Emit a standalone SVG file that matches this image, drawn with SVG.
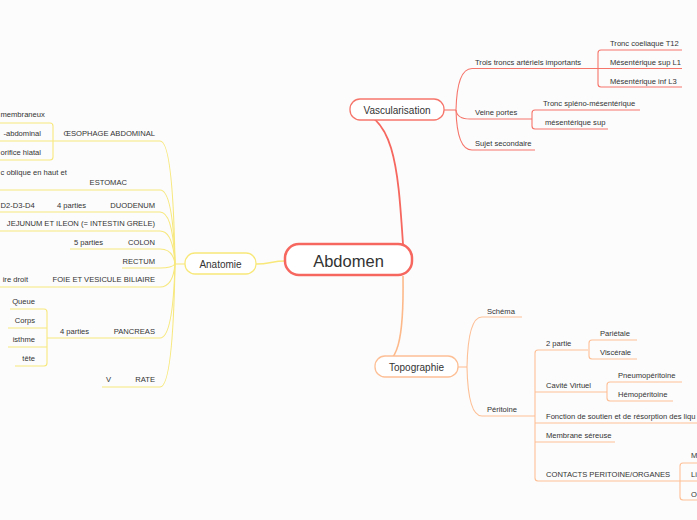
<svg xmlns="http://www.w3.org/2000/svg" width="697" height="520" viewBox="0 0 697 520">
<style>
.t{font-family:"Liberation Sans",Arial,sans-serif;font-size:7.6px;fill:#333;}
.e{text-anchor:end;}
.r{fill:none;stroke:#f6756b;stroke-width:1.1;}
.o{fill:none;stroke:#fdbf95;stroke-width:1.1;}
.y{fill:none;stroke:#f7e87e;stroke-width:1.1;}
</style>
<rect width="697" height="520" fill="#fcfcfc"/>
<g id="connectors">
  <path d="M403 244 C398 170 395 111 350 110" fill="none" stroke="#f6675f" stroke-width="1.8"/>
  <path d="M403 276 C404 340 398 366 376 367" fill="none" stroke="#fdb98a" stroke-width="1.6"/>
  <path d="M256 264 C270 264 272 261 285 261" fill="none" stroke="#f8e87a" stroke-width="1.6"/>
  <path class="r" d="M444 110 H456"/>
  <path class="r" d="M456 110 Q457 68.5 472 68.5 H598"/>
  <path class="r" d="M456 110 Q457 119 470 119 H532"/>
  <path class="r" d="M456 110 Q457 150 472 150 H535"/>
  <path class="r" d="M682 50 H601 Q598 50 598 53 V84 Q598 87 601 87 H682 M598 68.5 H682"/>
  <path class="r" d="M640 110 H535 Q532 110 532 113 V126 Q532 129 535 129 H608"/>
  <path class="o" d="M458 367 H467"/>
  <path class="o" d="M467 367 Q468 317 482 317 H522"/>
  <path class="o" d="M467 367 Q468 416 482 416 H535"/>
  <path class="o" d="M588 350 H538 Q535 350 535 353 V478 Q535 481 538 481 H680 M535 392 H607 M535 423 H700 M535 442 H615"/>
  <path class="o" d="M637 340 H592 Q589 340 589 343 V356 Q589 359 592 359 H637"/>
  <path class="o" d="M682 382 H610 Q607 382 607 385 V398 Q607 401 610 401 H673"/>
  <path class="o" d="M700 463 H683 Q680 463 680 466 V497 Q680 500 683 500 H700 M680 481 H700"/>
  <path class="y" d="M185 264 H175"/>
  <path class="y" d="M175 264 Q173 141 160 141 H53"/>
  <path class="y" d="M175 264 Q173 190 160 190 H0"/>
  <path class="y" d="M175 264 Q173 212 160 212 H0"/>
  <path class="y" d="M175 264 Q173 231 160 231 H0"/>
  <path class="y" d="M175 264 Q173 249 160 249 H70"/>
  <path class="y" d="M175 264 Q172 268 160 268 H122"/>
  <path class="y" d="M175 264 Q173 287 160 287 H0"/>
  <path class="y" d="M175 264 Q173 338 160 338 H47"/>
  <path class="y" d="M175 264 Q173 387 160 387 H102"/>
  <path class="y" d="M0 123 H50 Q53 123 53 126 V157 Q53 160 50 160 H0 M0 141 H53"/>
  <path class="y" d="M10 309 H44 Q47 309 47 312 V363 Q47 366 44 366 H15 M8 328 H47 M8 347 H47"/>
</g>
<g id="abdomen">
  <rect x="285" y="244" width="127" height="31" rx="14" fill="#fff" stroke="#f6675f" stroke-width="2.5"/>
  <text x="348.5" y="267" text-anchor="middle" style="font-family:'Liberation Sans',Arial,sans-serif;font-size:16.5px;fill:#333">Abdomen</text>
</g>
<g id="vascularisation">
  <rect x="350" y="99" width="94" height="21" rx="10" fill="#fff" stroke="#f6756b" stroke-width="1.3"/>
  <text class="t" x="397" y="113.5" text-anchor="middle" style="font-size:10px">Vascularisation</text>
</g>
<g id="trois-troncs"><text class="t" x="475" y="64.5">Trois troncs artériels importants</text></g>
<g id="tronc-coeliaque"><text class="t" x="610" y="46">Tronc coeliaque T12</text></g>
<g id="mesenterique-sup-l1"><text class="t" x="610" y="65">Mésentérique sup L1</text></g>
<g id="mesenterique-inf-l3"><text class="t" x="610" y="83.5">Mésentérique inf L3</text></g>
<g id="veine-portes"><text class="t" x="475" y="115">Veine portes</text></g>
<g id="tronc-spleno"><text class="t" x="543" y="106">Tronc spléno-mésentérique</text></g>
<g id="mesenterique-sup"><text class="t" x="545" y="125">mésentérique sup</text></g>
<g id="sujet-secondaire"><text class="t" x="475" y="146">Sujet secondaire</text></g>
<g id="topographie">
  <rect x="375" y="356" width="83" height="21" rx="10" fill="#fff" stroke="#fdbf95" stroke-width="1.3"/>
  <text class="t" x="416.5" y="370.5" text-anchor="middle" style="font-size:10px">Topographie</text>
</g>
<g id="schema"><text class="t" x="487" y="313.5">Schéma</text></g>
<g id="peritoine"><text class="t" x="487" y="411.5">Péritoine</text></g>
<g id="deux-partie"><text class="t" x="546" y="345.5">2 partie</text></g>
<g id="parietale"><text class="t" x="600" y="336">Pariétale</text></g>
<g id="viscerale"><text class="t" x="600" y="355">Viscérale</text></g>
<g id="cavite-virtuel"><text class="t" x="546" y="388">Cavité Virtuel</text></g>
<g id="pneumoperitoine"><text class="t" x="618" y="377.5">Pneumopéritoine</text></g>
<g id="hemoperitoine"><text class="t" x="618" y="397">Hémopéritoine</text></g>
<g id="fonction"><text class="t" x="546" y="418.5">Fonction de soutien et de résorption des liqu</text></g>
<g id="membrane-sereuse"><text class="t" x="546" y="437.5">Membrane séreuse</text></g>
<g id="contacts"><text class="t" x="546" y="477">CONTACTS PERITOINE/ORGANES</text></g>
<g id="contact-m"><text class="t" x="691" y="457.5">M</text></g>
<g id="contact-li"><text class="t" x="691" y="477">Li</text></g>
<g id="contact-o"><text class="t" x="691" y="496.5">O</text></g>
<g id="anatomie">
  <rect x="185" y="253" width="71" height="21" rx="10" fill="#fff" stroke="#f8e87a" stroke-width="1.3"/>
  <text class="t" x="220.5" y="267.5" text-anchor="middle" style="font-size:10px">Anatomie</text>
</g>
<g id="oesophage"><text class="t e" x="155" y="136">ŒSOPHAGE ABDOMINAL</text></g>
<g id="membraneux"><text class="t" x="0.5" y="117">membraneux</text></g>
<g id="abdominal"><text class="t e" x="41" y="136">-abdominal</text></g>
<g id="orifice-hiatal"><text class="t e" x="41" y="154.5">orifice hiatal</text></g>
<g id="estomac"><text class="t e" x="127" y="185">ESTOMAC</text></g>
<g id="oblique"><text class="t" x="0.5" y="175">c oblique en haut et</text></g>
<g id="duodenum"><text class="t e" x="155" y="207.5">DUODENUM</text></g>
<g id="duodenum-parties"><text class="t" x="57" y="207.5">4 parties</text></g>
<g id="d2d3d4"><text class="t" x="0.5" y="207.5">D2-D3-D4</text></g>
<g id="jejunum"><text class="t e" x="155" y="226">JEJUNUM ET ILEON (= INTESTIN GRELE)</text></g>
<g id="colon"><text class="t e" x="155" y="244.5">COLON</text></g>
<g id="colon-parties"><text class="t" x="74" y="244.5">5 parties</text></g>
<g id="rectum"><text class="t e" x="155" y="263.5">RECTUM</text></g>
<g id="foie"><text class="t e" x="155" y="282">FOIE ET VESICULE BILIAIRE</text></g>
<g id="droit"><text class="t e" x="28" y="282">ire droit</text></g>
<g id="pancreas"><text class="t e" x="155" y="333.5">PANCREAS</text></g>
<g id="pancreas-parties"><text class="t" x="60" y="333.5">4 parties</text></g>
<g id="queue"><text class="t e" x="35" y="304">Queue</text></g>
<g id="corps"><text class="t e" x="35" y="323">Corps</text></g>
<g id="isthme"><text class="t e" x="35" y="342">isthme</text></g>
<g id="tete"><text class="t e" x="35" y="361">tête</text></g>
<g id="rate"><text class="t e" x="155" y="382">RATE</text></g>
<g id="rate-v"><text class="t" x="106" y="382">V</text></g>
</svg>
